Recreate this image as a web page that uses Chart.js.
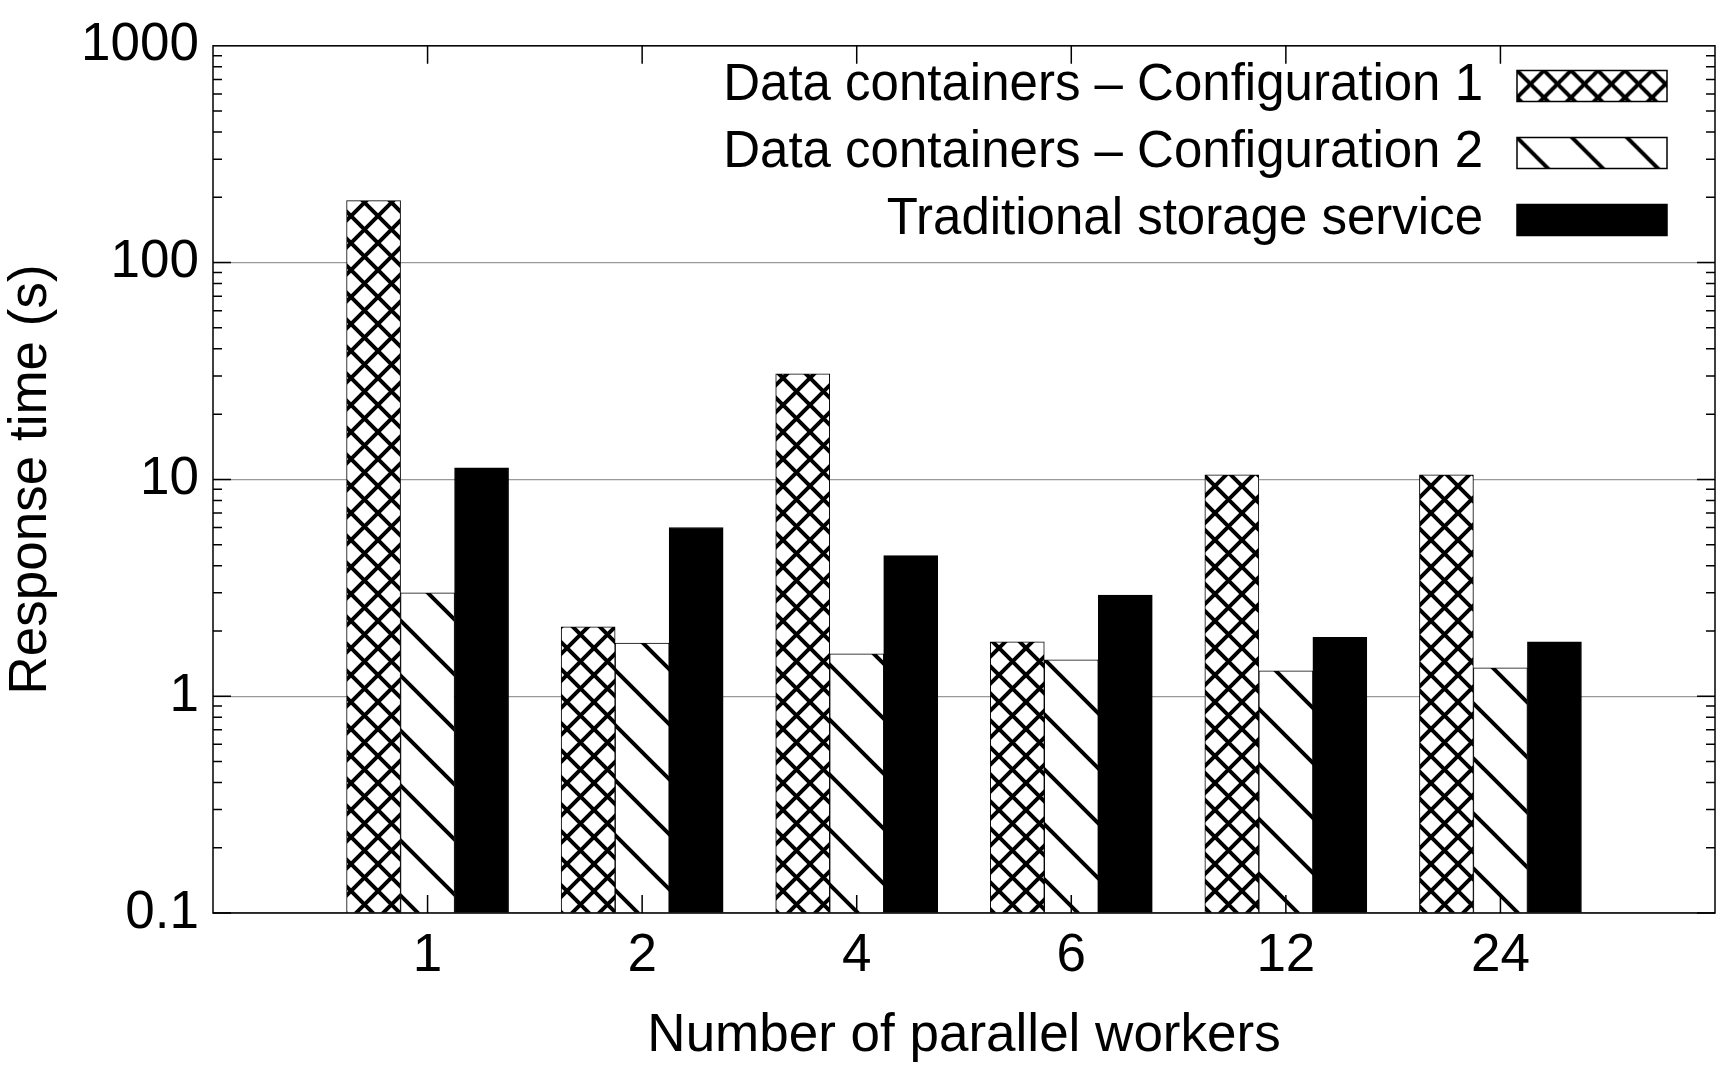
<!DOCTYPE html>
<html><head><meta charset="utf-8">
<script src="https://cdn.jsdelivr.net/npm/chart.js@4/dist/chart.umd.min.js"></script>
<style>html,body{margin:0;background:#fff}#wrap{width:1734px;height:1068px}</style>
</head><body><div id="wrap"><canvas id="c"></canvas></div>
<script>
// ── Data ────────────────────────────────────────────────────
const workers = ["", "1", "2", "4", "6", "12", "24", ""];
const config1 = [null, 193, 2.09, 30.7, 1.78, 10.5, 10.5, null];
const config2 = [null, 3.0, 1.76, 1.57, 1.47, 1.31, 1.35, null];
const traditional = [null, 11.3, 6.0, 4.45, 2.93, 1.87, 1.78, null];
const seriesNames = ["Data containers \u2013 Configuration 1", "Data containers \u2013 Configuration 2", "Traditional storage service"];
const decades = [0.1, 1, 10, 100, 1000];

const FONT = "'Liberation Sans', Arial, sans-serif";

// ── Patterns ────────────────────────────────────────────────
function crossPattern() {
  const s = 27, t = document.createElement("canvas");
  t.width = s; t.height = s;
  const g = t.getContext("2d");
  g.fillStyle = "#fff"; g.fillRect(0, 0, s, s);
  g.strokeStyle = "#000"; g.lineWidth = 4;
  g.beginPath();
  g.moveTo(-2, -2); g.lineTo(s + 2, s + 2);
  g.moveTo(s + 2, -2); g.lineTo(-2, s + 2);
  g.stroke();
  return g.createPattern(t, "repeat");
}
function diagPattern() {
  const s = 55, t = document.createElement("canvas");
  t.width = s; t.height = s;
  const g = t.getContext("2d");
  g.fillStyle = "#fff"; g.fillRect(0, 0, s, s);
  g.strokeStyle = "#000"; g.lineWidth = 4;
  g.beginPath();
  g.moveTo(-5, -5); g.lineTo(s + 5, s + 5);
  g.moveTo(-5, s - 5); g.lineTo(5, s + 5);
  g.moveTo(s - 5, -5); g.lineTo(s + 5, 5);
  g.stroke();
  return g.createPattern(t, "repeat");
}
const fills = [crossPattern(), diagPattern(), "#000"];

// ── Frame, minor ticks, legend ─────────────────────────────
const framePlugin = {
  id: "frame",
  afterDraw(chart) {
    const { ctx, chartArea: a, scales } = chart;
    const y = scales.y, x = scales.x;
    ctx.save();
    ctx.strokeStyle = "#000"; ctx.lineWidth = 1.5;
    ctx.strokeRect(a.left, a.top, a.right - a.left, a.bottom - a.top);
    ctx.beginPath();
    decades.slice(0, -1).forEach(d => {
      for (let m = 1; m <= 9; m++) {
        const py = y.getPixelForValue(d * m);
        const len = m === 1 ? 18 : 9;
        ctx.moveTo(a.left, py); ctx.lineTo(a.left + len, py);
        ctx.moveTo(a.right, py); ctx.lineTo(a.right - len, py);
      }
    });
    for (let i = 1; i <= 6; i++) {
      const px = x.getPixelForValue(i);
      ctx.moveTo(px, a.bottom); ctx.lineTo(px, a.bottom - 18);
      ctx.moveTo(px, a.top); ctx.lineTo(px, a.top + 18);
    }
    ctx.stroke();
    // legend
    ctx.font = "51px " + FONT;
    ctx.textAlign = "right"; ctx.textBaseline = "middle";
    seriesNames.forEach((name, i) => {
      const cy = 86 + i * 67;
      const bx = 1517, bw = 150, bh = 31;
      ctx.fillStyle = "#000";
      ctx.fillText(name, bx - 34, cy);
      ctx.fillStyle = fills[i];
      ctx.save(); ctx.translate(bx, cy - bh / 2);
      ctx.fillRect(0, 0, bw, bh);
      ctx.restore();
      ctx.strokeRect(bx, cy - bh / 2, bw, bh);
    });
    ctx.restore();
  }
};

const dataSets = [config1, config2, traditional];

new Chart(document.getElementById("c"), {
  type: "bar",
  data: {
    labels: workers,
    datasets: dataSets.map((d, i) => ({
      label: seriesNames[i],
      data: d,
      backgroundColor: fills[i],
      borderColor: "#000",
      borderWidth: 1,
      barThickness: 54,
      base: 0.1
    }))
  },
  options: {
    responsive: true,
    maintainAspectRatio: false,
    animation: false,
    layout: { padding: { top: 33, right: 19 } },
    plugins: { legend: { display: false }, tooltip: { enabled: false } },
    scales: {
      x: {
        offset: false,
        grid: { display: false, drawTicks: false },
        border: { display: false },
        ticks: { color: "#000", font: { size: 53, family: FONT }, maxRotation: 0, autoSkip: false, padding: 12 },
        title: { display: true, text: "Number of parallel workers", color: "#000", font: { size: 53, family: FONT }, padding: 0 },
        afterFit: s => { s.height = 155; }
      },
      y: {
        type: "logarithmic",
        min: 0.1, max: 1000,
        afterBuildTicks: s => { s.ticks = decades.map(v => ({ value: v })); },
        grid: { color: "#999", lineWidth: 1.2, borderDash: [2, 5], drawTicks: false },
        border: { display: false },
        ticks: { color: "#000", font: { size: 53, family: FONT }, padding: 14,
                 callback: v => String(v) },
        title: { display: true, text: "Response time (s)", color: "#000", font: { size: 53, family: FONT }, padding: 0 },
        afterFit: s => { s.width = 213; }
      }
    }
  },
  plugins: [framePlugin]
});
</script></body></html>
